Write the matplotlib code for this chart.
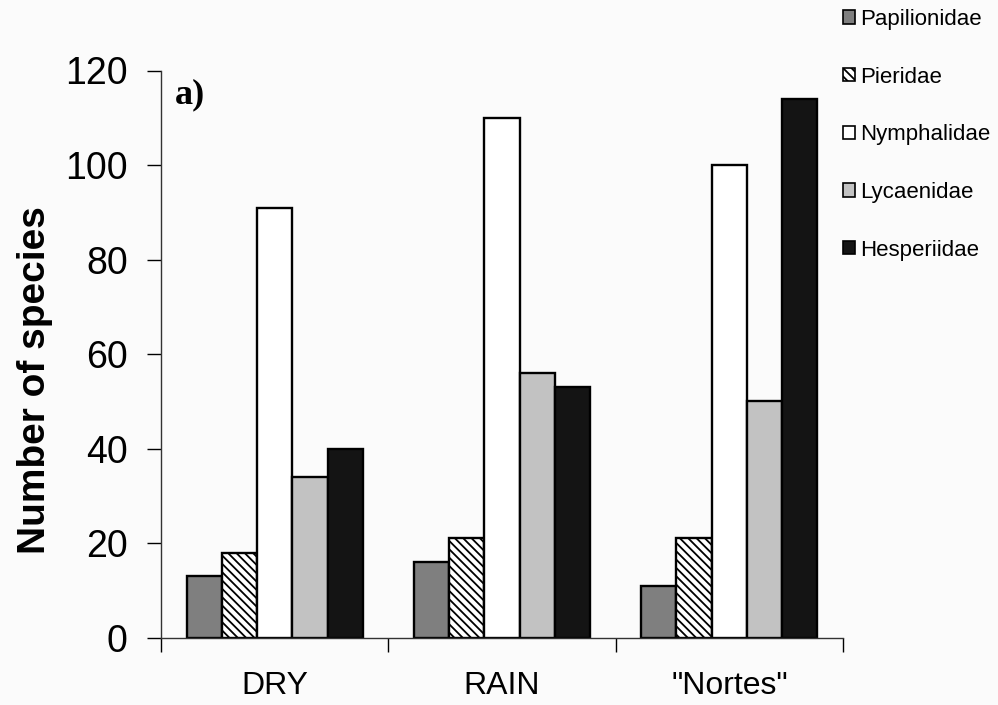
import numpy as np
import matplotlib.pyplot as plt
from matplotlib.patches import Patch

plt.rcParams['font.family'] = ['Liberation Sans', 'DejaVu Sans']
plt.rcParams['hatch.linewidth'] = 1.3

seasons = ['DRY', 'RAIN', '"Nortes"']
families = ['Papilionidae', 'Pieridae', 'Nymphalidae', 'Lycaenidae', 'Hesperiidae']

papilionidae = [13, 16, 11]
pieridae = [18, 21, 21]
nymphalidae = [91, 110, 100]
lycaenidae = [34, 56, 50]
hesperiidae = [40, 53, 114]

fills = ['#7f7f7f', 'white', 'white', '#c2c2c2', '#141414']
hatches = [None, '\\\\\\\\', None, None, None]

fig = plt.figure(figsize=(9.98, 7.05), dpi=100, facecolor='#fbfbfb')
ax = fig.add_axes([0.1613, 0.0956, 0.6834, 0.8044])
ax.set_facecolor('#fbfbfb')

x = np.arange(len(seasons))
w = 0.155
series = [papilionidae, pieridae, nymphalidae, lycaenidae, hesperiidae]
for i, vals in enumerate(series):
    ax.bar(x + (i - 2) * w, vals, width=w, color=fills[i], hatch=hatches[i],
           edgecolor='black', linewidth=1.7, zorder=2)

ax.set_xlim(-0.5, 2.5)
ax.set_ylim(0, 120)
ax.set_yticks(np.arange(0, 121, 20))
ax.tick_params(axis='y', labelsize=27, length=10, width=1, pad=14, direction='out')

# category labels at centres, tick marks at the boundaries
ax.set_xticks(x)
ax.set_xticklabels(seasons)
ax.tick_params(axis='x', which='major', length=0, labelsize=23, pad=24)
ax.set_xticks(np.arange(-0.5, 2.6, 1), minor=True)
ax.tick_params(axis='x', which='minor', length=10, width=1, direction='out')

for s in ['top', 'right']:
    ax.spines[s].set_visible(False)
for s in ['left', 'bottom']:
    ax.spines[s].set_linewidth(1)
    ax.spines[s].set_color('#333333')

fig.text(0.035, 1 - 380 / 705, 'Number of species', rotation=90,
         fontsize=28, fontweight='bold', ha='center', va='center')
fig.text(175 / 998, 1 - 95 / 705, 'a)', fontsize=26, fontweight='bold',
         family='Liberation Serif', ha='left', va='center')

handles = [Patch(facecolor=fills[i], hatch=hatches[i], edgecolor='black', linewidth=1.2)
           for i in range(len(families))]
fig.legend(handles, families, loc='upper left', bbox_to_anchor=(832 / 998, 1.003),
           frameon=False, fontsize=16, handlelength=0.55, handleheight=0.55,
           handletextpad=0.2, labelspacing=1.65, borderpad=0.0)

fig.savefig('out.png', dpi=100, facecolor=fig.get_facecolor())
